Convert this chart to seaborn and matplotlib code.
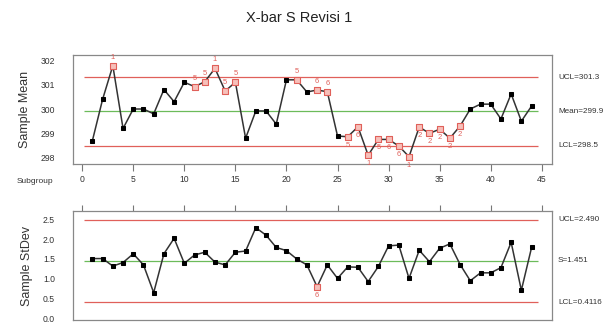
import numpy as np
import pandas as pd
import matplotlib
matplotlib.use("Agg")
import matplotlib.pyplot as plt
import seaborn as sns

# Subgroup statistics
subgroups = list(range(1, 45))
sample_means = [298.7, 300.4, 301.78, 299.2, 300.0, 300.0, 299.8, 300.8, 300.3, 301.1,
                300.92, 301.12, 301.67, 300.74, 301.1, 298.8, 299.92, 299.92, 299.38, 301.2,
                301.2, 300.7, 300.78, 300.71, 298.89, 298.86, 299.27, 298.1, 298.75, 298.75,
                298.48, 298.04, 299.26, 299.0, 299.17, 298.8, 299.3, 300.0, 300.2, 300.2,
                299.59, 300.62, 299.5, 300.12]
sample_sds = [1.51, 1.51, 1.32, 1.41, 1.63, 1.35, 0.65, 1.63, 2.02, 1.39,
              1.60, 1.67, 1.42, 1.35, 1.67, 1.70, 2.29, 2.10, 1.79, 1.71,
              1.50, 1.35, 0.80, 1.35, 1.01, 1.30, 1.29, 0.93, 1.31, 1.83,
              1.85, 1.01, 1.72, 1.43, 1.77, 1.88, 1.36, 0.95, 1.15, 1.15,
              1.28, 1.92, 0.71, 1.79]

# Control limits
xbar_limits = {"UCL": 301.3, "Mean": 299.9, "LCL": 298.5}
s_limits = {"UCL": 2.490, "S": 1.451, "LCL": 0.4116}
xbar_limit_text = ["UCL=301.3", "Mean=299.9", "LCL=298.5"]
s_limit_text = ["UCL=2.490", "S=1.451", "LCL=0.4116"]

# Out-of-control flags: subgroup -> failed test number
xbar_flags = {3: "1", 11: "5", 12: "5", 13: "1", 14: "5", 15: "5", 21: "5",
              23: "6", 24: "6", 26: "5", 27: "6", 28: "1", 29: "5", 30: "6",
              31: "6", 32: "1", 33: "2", 34: "2", 35: "2", 36: "2", 37: "2"}
s_flags = {23: "6"}

x_ticks = [0, 5, 10, 15, 20, 25, 30, 35, 40, 45]

sns.set_theme(style="white")
plt.rcParams["font.family"] = ["Liberation Sans", "DejaVu Sans"]

df = pd.DataFrame({"Subgroup": subgroups, "Mean": sample_means, "StDev": sample_sds})

fig = plt.figure(figsize=(6.11, 3.25), dpi=100)
fig.patch.set_facecolor("white")
ax1 = fig.add_axes([73 / 611, 1 - 164 / 325, (552 - 73) / 611, (164 - 55) / 325])
ax2 = fig.add_axes([73 / 611, 1 - 320 / 325, (552 - 73) / 611, (320 - 211) / 325])

RED = "#e0605a"
GREEN = "#6cbb5a"
LINE_SPAN = (0.2, 44.6)


def draw_chart(ax, col, limits, limit_text, flags, ylim, yticks, ylabel, ytickfmt):
    center_key = [k for k in limits if k not in ("UCL", "LCL")][0]
    for key in limits:
        color = GREEN if key == center_key else RED
        ax.hlines(limits[key], *LINE_SPAN, color=color, lw=0.9, zorder=1)
    sns.lineplot(data=df, x="Subgroup", y=col, ax=ax, color="#333333", lw=1.1,
                 marker="s", markersize=3.0, markerfacecolor="black",
                 markeredgecolor="black", zorder=3)
    flagged = df[df["Subgroup"].isin(flags.keys())]
    ax.scatter(flagged["Subgroup"], flagged[col], marker="s", s=14,
               facecolor="#f6c0ba", edgecolor=RED, linewidth=0.8, zorder=4)
    span = ylim[1] - ylim[0]
    for sg, lab in flags.items():
        v = df.loc[df["Subgroup"] == sg, col].iloc[0]
        above = v >= limits[center_key]
        off = 0.045 * span if above else -0.045 * span
        ax.text(sg, v + off, lab, color=RED, fontsize=5.5, ha="center",
                va="bottom" if above else "top", zorder=5)
    ax.set_xlim(-0.9, 46)
    ax.set_ylim(*ylim)
    ax.set_yticks(yticks)
    ax.set_yticklabels([ytickfmt.format(t) for t in yticks], fontsize=6.2, color="#333333")
    ax.set_xticks(x_ticks)
    ax.set_ylabel(ylabel, fontsize=9, color="#333333", labelpad=7)
    ax.set_xlabel("")
    for s in ax.spines.values():
        s.set_color("#888888")
        s.set_linewidth(0.9)
    ax.tick_params(axis="y", length=8, width=0.8, color="#777777", pad=5)
    for key, txt in zip(limits, limit_text):
        ax.text(1.0125, limits[key], txt, transform=ax.get_yaxis_transform(),
                fontsize=5.9, color="#333333", va="center", ha="left")


draw_chart(ax1, "Mean", xbar_limits, xbar_limit_text, xbar_flags,
           (297.74, 302.22), [298, 299, 300, 301, 302], "Sample Mean", "{:.0f}")
draw_chart(ax2, "StDev", s_limits, s_limit_text, s_flags,
           (-0.04, 2.71), [0.0, 0.5, 1.0, 1.5, 2.0, 2.5], "Sample StDev", "{:.1f}")

# Subgroup axis under the mean chart
ax1.tick_params(axis="x", bottom=True, length=5, width=0.8, color="#777777",
                labelsize=6.2, labelcolor="#333333", pad=3)
ax1.text(-0.042, -0.13, "Subgroup", transform=ax1.transAxes, fontsize=6,
         color="#333333", ha="right", va="top")
# Top ticks on the StDev chart
ax2.tick_params(axis="x", top=True, bottom=False, labelbottom=False,
                length=4, width=0.8, color="#777777", direction="out")

fig.suptitle("X-bar S Revisi 1", x=0.49, y=0.965, fontsize=10.5, color="#222222")

fig.savefig("out.png", dpi=100, facecolor="white")
